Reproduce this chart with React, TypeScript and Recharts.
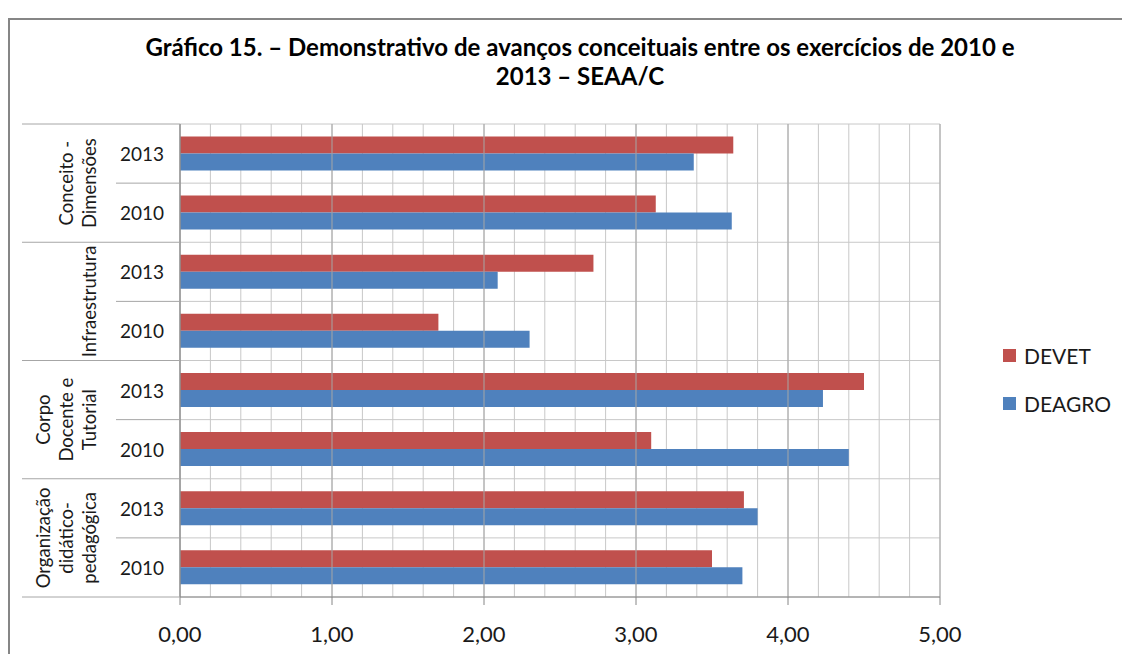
import React from "react";
import {
  BarChart,
  Bar,
  XAxis,
  YAxis,
  CartesianGrid,
  ReferenceLine,
} from "recharts";

// ---- data ----
const years = ["2013", "2010", "2013", "2010", "2013", "2010", "2013", "2010"];
const groupOfRow = [0, 0, 1, 1, 2, 2, 3, 3];
const groupLabels: string[][] = [
  ["Conceito -", "Dimensões"],
  ["Infraestrutura"],
  ["Corpo", "Docente e", "Tutorial"],
  ["Organização", "didático-", "pedagógica"],
];
const devet = [3.64, 3.13, 2.72, 1.7, 4.5, 3.1, 3.71, 3.5];
const deagro = [3.38, 3.63, 2.09, 2.3, 4.23, 4.4, 3.8, 3.7];
const xTicks = [
  0, 0.2, 0.4, 0.6, 0.8, 1, 1.2, 1.4, 1.6, 1.8, 2, 2.2, 2.4, 2.6, 2.8, 3, 3.2,
  3.4, 3.6, 3.8, 4, 4.2, 4.4, 4.6, 4.8, 5,
];
const majorTicks = [0, 1, 2, 3, 4, 5];
const seriesNames = ["DEVET", "DEAGRO"];
const seriesColors = ["#C0504D", "#4F81BD"];
const titleLines = [
  "Gráfico 15. – Demonstrativo de avanços conceituais entre os exercícios de 2010 e",
  "2013 – SEAA/C",
];

const data = years.map((y, i) => ({
  key: `r${i}`,
  year: y,
  group: groupOfRow[i],
  DEVET: devet[i],
  DEAGRO: deagro[i],
}));

const FONT = "Lato, 'Open Sans', sans-serif";
const LINE = "#a6a6a6";

const YTick = (props: any) => {
  const { x, y, payload, index } = props;
  const half = payload && payload.offset ? payload.offset : 29.5;
  const row = data[index];
  const isFirstOfGroup = index % 2 === 0;
  const elems: any[] = [];
  elems.push(
    <text
      key="yr"
      x={x - 38}
      y={y}
      textAnchor="middle"
      dominantBaseline="central"
      fontFamily={FONT}
      fontSize={19}
      fill="#1a1a1a"
    >
      {row.year}
    </text>
  );
  elems.push(
    <line
      key="bl"
      x1={isFirstOfGroup ? x - 64 : x - 158}
      x2={x}
      y1={y + half}
      y2={y + half}
      stroke={LINE}
      strokeWidth={1}
    />
  );
  if (index === 0) {
    elems.push(
      <line key="tl" x1={x - 158} x2={x} y1={y - half} y2={y - half} stroke={LINE} strokeWidth={1} />
    );
  }
  if (isFirstOfGroup) {
    const lines = groupLabels[row.group];
    const cy = y + half;
    const n = lines.length;
    lines.forEach((t, k) => {
      const cx = x - 91 - (n - 1 - k) * 23;
      elems.push(
        <text
          key={`g${k}`}
          x={cx}
          y={cy}
          transform={`rotate(-90, ${cx}, ${cy})`}
          textAnchor="middle"
          dominantBaseline="central"
          fontFamily={FONT}
          fontSize={18.5}
          fill="#1a1a1a"
        >
          {t}
        </text>
      );
    });
  }
  return <g>{elems}</g>;
};

const XTick = (props: any) => {
  const { x, y, payload } = props;
  const v = payload.value;
  if (!majorTicks.includes(v)) return <g />;
  return (
    <g>
      <line x1={x} x2={x} y1={y} y2={y + 8} stroke="#868686" />
      <text
        x={x}
        y={y + 36}
        textAnchor="middle"
        dominantBaseline="central"
        fontFamily={FONT}
        fontSize={22}
        fill="#1a1a1a"
      >
        {v.toFixed(2).replace(".", ",")}
      </text>
    </g>
  );
};

export default function App() {
  return (
    <div style={{ position: "relative", width: 1122, height: 646 }}>
      <div
        style={{
          position: "absolute",
          left: 0,
          top: 0,
          width: 1122,
          height: 646,
          overflow: "hidden",
        }}
      >
        <div
          style={{
            position: "absolute",
            left: 0,
            top: 10,
            width: 1200,
            height: 800,
            border: "2px solid #868686",
            boxSizing: "border-box",
            background: "#fff",
          }}
        />
      </div>
      <span
        style={{
          position: "absolute",
          left: 22,
          top: -23,
          fontFamily: "'Liberation Serif', 'Times New Roman', serif",
          fontWeight: "bold",
          fontSize: 24,
          lineHeight: "28px",
          color: "#000",
          whiteSpace: "nowrap",
        }}
      >
        SEAA/C
      </span>
      <div
        style={{
          position: "absolute",
          left: 0,
          top: 24,
          width: 1144,
          textAlign: "center",
          fontFamily: FONT,
          fontWeight: "bold",
          fontSize: 24,
          lineHeight: "29px",
          color: "#000",
        }}
      >
        {titleLines.map((t) => (
          <div key={t}>{t}</div>
        ))}
      </div>
      <div style={{ position: "absolute", left: 0, top: 0 }}>
        <BarChart
          width={1122}
          height={646}
          data={data}
          layout="vertical"
          margin={{ top: 116, right: 190, bottom: 0, left: 14 }}
          barCategoryGap="21%"
          barGap={0}
        >
          <CartesianGrid
            stroke="#c8c8c8"
            vertical={true}
            horizontal={true}
            horizontalCoordinatesGenerator={({ offset }: any) =>
              data
                .map((_, i) => offset.top + (i * offset.height) / data.length)
                .concat([offset.top + offset.height])
            }
          />
          {majorTicks.map((m) => (
            <ReferenceLine key={m} x={m} stroke={LINE} strokeWidth={1} />
          ))}
          <XAxis
            type="number"
            domain={[0, 5]}
            ticks={xTicks}
            interval={0}
            tickLine={false}
            tickSize={0}
            tickMargin={0}
            height={57}
            axisLine={{ stroke: "#868686" }}
            tick={<XTick />}
          />
          <YAxis
            type="category"
            dataKey="key"
            width={158}
            tickLine={false}
            tickSize={0}
            tickMargin={0}
            interval={0}
            axisLine={{ stroke: "#868686" }}
            tick={<YTick />}
          />
          <Bar dataKey="DEVET" fill={seriesColors[0]} isAnimationActive={false} />
          <Bar dataKey="DEAGRO" fill={seriesColors[1]} isAnimationActive={false} />
        </BarChart>
      </div>
      <div
        style={{
          position: "absolute",
          left: 995,
          top: 323,
          fontFamily: FONT,
          fontSize: 21,
          color: "#1a1a1a",
        }}
      >
        {seriesNames.map((n, i) => (
          <div key={n} style={{ display: "flex", alignItems: "center", height: 48 }}>
            <span
              style={{
                display: "inline-block",
                width: 13,
                height: 13,
                background: seriesColors[i],
                marginRight: 8,
              }}
            />
            <span>{n}</span>
          </div>
        ))}
      </div>
    </div>
  );
}
